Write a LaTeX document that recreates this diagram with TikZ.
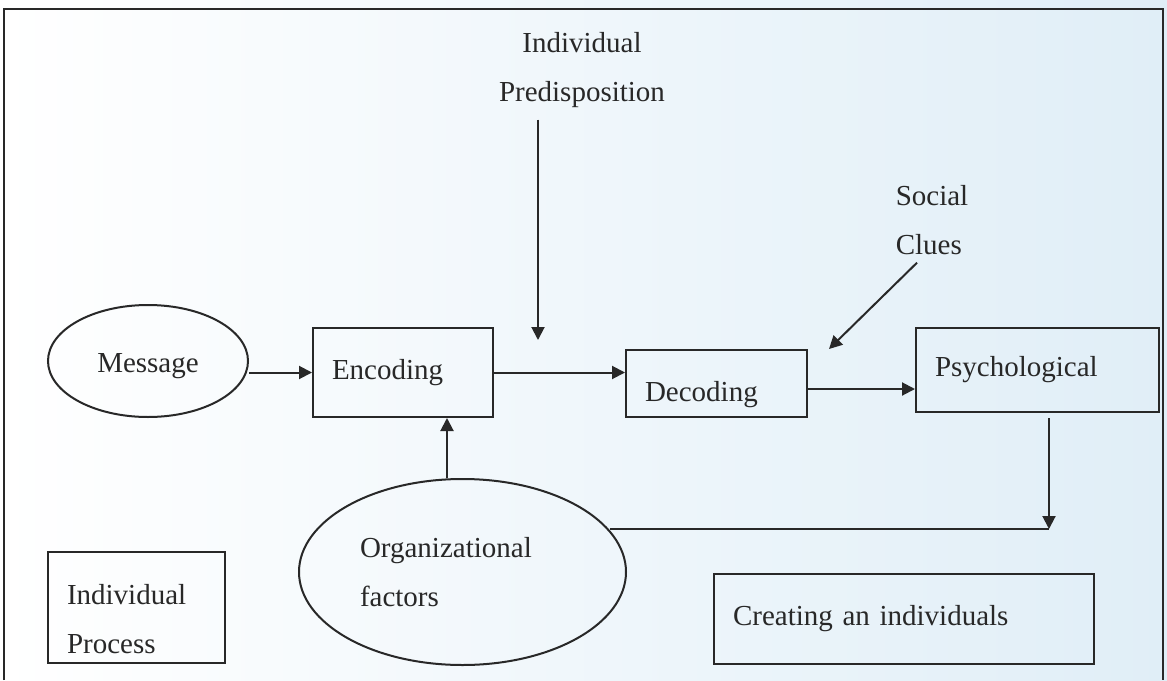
\documentclass[tikz,border=0pt]{standalone}
\usepackage{fontspec}
\setmainfont{Liberation Serif}
\usetikzlibrary{arrows.meta,shapes.geometric}
\definecolor{scan}{RGB}{224,238,247}
\definecolor{ink}{RGB}{40,40,40}

\begin{document}
\begin{tikzpicture}[->, >={Triangle[length=13pt,width=13pt]}, x=1pt, y=-1pt,
  line width=2pt, color=ink, font=\fontsize{29}{49}\selectfont,
  box/.style={draw, rectangle, align=left, inner xsep=19pt, inner ysep=2pt},
  oval/.style={draw, ellipse, inner sep=0pt}]
  \useasboundingbox (0,0) rectangle (1167,680);
  \shade[left color=white, right color=scan] (0,0) rectangle (1167,680);
  \draw[-] (4,680) -- (4,9) -- (1163,9) -- (1163,680);

  \node[oval, minimum width=200pt, minimum height=112pt, text height=29pt] (M) at (148,361) {Message};
  \node[box, text width=142pt, minimum height=89pt]               (E)   at (403,372.5)   {Encoding};
  \node[box, text width=143pt, minimum height=67pt, text height=43pt] (D) at (716.5,383.5) {Decoding};
  \node[box, text width=205pt, minimum height=84pt]               (P)   at (1037.5,370)  {Psychological};
  \node[oval, align=left, text width=205pt, minimum width=327pt, minimum height=186pt] (O) at (462.5,572) {Organizational\\factors};
  \node[box, text width=139pt, minimum height=111pt, text height=43pt] (IP) at (136.5,607.5) {Individual\\Process};
  \node[box, text width=342pt, minimum height=90pt]               (C)   at (904,619)     {Creating an individuals};
  \node[align=center, inner sep=2pt]                              (Pre) at (582,70)      {Individual\\Predisposition};
  \node[align=left, inner sep=2pt]                                (S)   at (932,220)     {Social\\Clues};
  \coordinate (pd) at (538,340);
  \coordinate (sd) at (829,349);
  \coordinate (J)  at (1049,529);

  \draw (E.west -| M.east) -- (E.west);
  \draw (E.east) -- (E.east -| D.west);
  \draw ([yshift=-5.5pt]D.east) -- ([yshift=-5.5pt]D.east -| P.west);
  \draw[shorten <=9pt] (pd |- Pre.south) -- (pd);
  \draw ([xshift=-15pt,yshift=-5pt]S.south) -- (sd);
  \draw ([xshift=-15.5pt]O.north) -- ([xshift=-15.5pt]O.north |- E.south);
  \draw[shorten <=5pt] (J |- P.south) -- (J);
  \draw[-] (O.16.5 |- J) -- (J);
\end{tikzpicture}
\end{document}
